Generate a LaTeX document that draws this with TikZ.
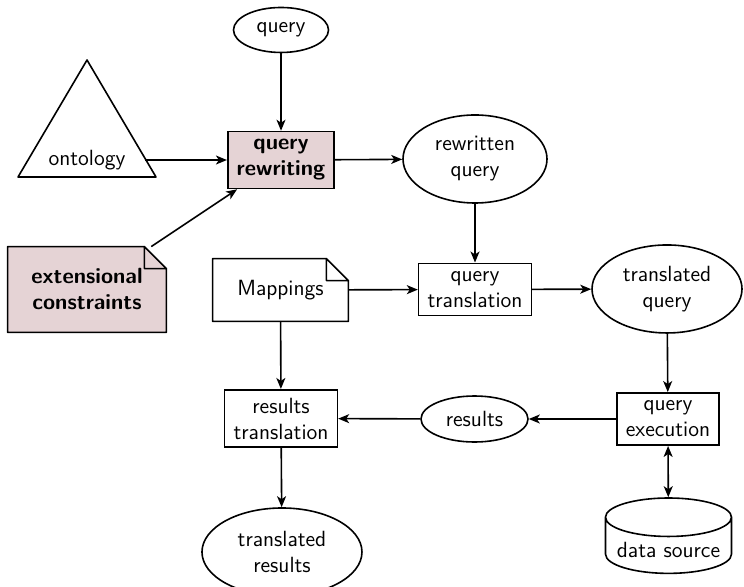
\documentclass[tikz,border=0pt]{standalone}
\usetikzlibrary{shapes.geometric,arrows.meta}

\definecolor{rewritepink}{RGB}{229,211,213}

% folded corner of a note node
\newcommand{\drawnote}[1]{%
  \fill[white] ([xshift=-11pt]#1.north east) -- (#1.north east) -- ([yshift=-11pt]#1.north east) -- cycle;
  \draw[thick, line join=round] (#1.south west) -- (#1.north west) -- ([xshift=-11pt]#1.north east)
    -- ([yshift=-11pt]#1.north east) -- (#1.south east) -- cycle
    ([xshift=-11pt]#1.north east) |- ([yshift=-11pt]#1.north east);}

\begin{document}
\begin{tikzpicture}[
    font=\sffamily\fontsize{11}{13}\selectfont,
    >={Stealth[length=5.5pt,width=4.5pt,inset=1.5pt]},
    procbox/.style={draw, thick, rectangle, align=center, inner xsep=4.5pt, inner ysep=4pt},
    dataell/.style={draw, thick, ellipse, align=center, inner sep=0pt},
    notebox/.style={rectangle, align=center, inner sep=0pt},
    flow/.style={->, thick}
]
    \useasboundingbox (0,0) rectangle (13.074,-10.315);

    % Draw query rewriting part
    \node[dataell, minimum width=47.5pt, minimum height=22.5pt] (query) at (4.938,-0.527) {query};
    \node[procbox, fill=rewritepink, font=\sffamily\bfseries\fontsize{11}{13}\selectfont] (rewrite) at (4.938,-2.812) {query\\rewriting};
    \node[outer xsep=6.5pt] (onto) at (1.529,-2.812) {ontology};
    \draw[thick, line join=round] ([shift={(-34.5pt,-8.5pt)}]onto.center) -- ([yshift=50pt]onto.center)
        -- ([shift={(34.5pt,-8.5pt)}]onto.center) -- cycle;
    \node[dataell, minimum width=72pt, minimum height=44pt] (rwquery) at (8.347,-2.794) {rewritten\\query};
    \node[notebox, fill=rewritepink, minimum width=79pt, minimum height=42.5pt,
          font=\sffamily\bfseries\fontsize{11}{13}\selectfont] (extcons) at (1.529,-5.087) {extensional\\constraints};
    \drawnote{extcons}

    % Draw query translation part
    \node[notebox, minimum width=67.5pt, minimum height=31pt] (mappings) at (4.929,-5.096) {Mappings};
    \drawnote{mappings}
    \node[procbox] (qtrans) at (8.347,-5.087) {query\\translation};
    \node[dataell, minimum width=75pt, minimum height=44pt] (trquery) at (11.721,-5.078) {translated\\query};

    % Draw execution and results part
    \node[procbox] (qexec) at (11.738,-7.363) {query\\execution};
    \node[dataell, minimum width=53.5pt, minimum height=23pt] (results) at (8.338,-7.363) {results};
    \node[procbox] (rtrans) at (4.938,-7.354) {results\\translation};
    \node[dataell, minimum width=80pt, minimum height=44pt] (trresults) at (4.955,-9.700) {translated\\results};
    \node[draw, thick, cylinder, shape border rotate=90, aspect=0.33, minimum width=63pt,
          inner ysep=2.5pt] (datasrc) at (11.747,-9.665) {data source};

    % Connectors
    \draw[flow] (query) -- (rewrite);
    \draw[flow] (onto) -- (rewrite);
    \draw[flow] (extcons) -- (rewrite);
    \draw[flow] (rewrite) -- (rwquery);
    \draw[flow] (rwquery) -- (qtrans);
    \draw[flow] (mappings) -- (qtrans);
    \draw[flow] (qtrans) -- (trquery);
    \draw[flow] (trquery) -- (qexec);
    \draw[flow] (qexec) -- (results);
    \draw[flow] (results) -- (rtrans);
    \draw[flow] (mappings) -- (rtrans);
    \draw[flow] (rtrans) -- (trresults);
    \draw[<->, thick] (qexec) -- (datasrc);
\end{tikzpicture}
\end{document}
